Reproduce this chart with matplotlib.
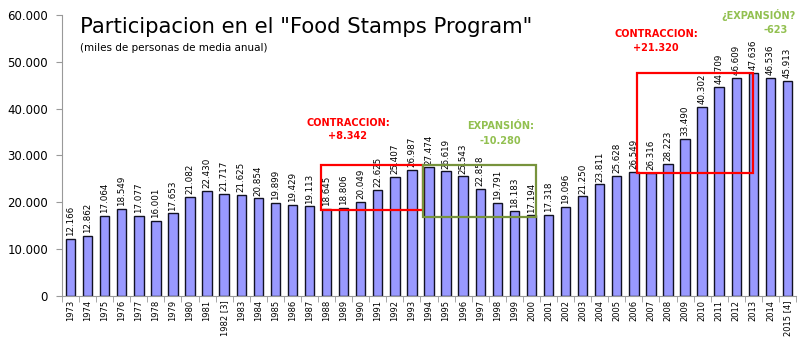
import numpy as np
import matplotlib.pyplot as plt
from matplotlib.patches import Rectangle
from matplotlib.ticker import FuncFormatter, FixedLocator

years = ["1973", "1974", "1975", "1976", "1977", "1978", "1979", "1980",
         "1981", "1982 [3]", "1983", "1984", "1985", "1986", "1987", "1988",
         "1989", "1990", "1991", "1992", "1993", "1994", "1995", "1996",
         "1997", "1998", "1999", "2000", "2001", "2002", "2003", "2004",
         "2005", "2006", "2007", "2008", "2009", "2010", "2011", "2012",
         "2013", "2014", "2015 [4]"]
participants = [12166, 12862, 17064, 18549, 17077, 16001, 17653, 21082,
                22430, 21717, 21625, 20854, 19899, 19429, 19113, 18645,
                18806, 20049, 22625, 25407, 26987, 27474, 26619, 25543,
                22858, 19791, 18183, 17194, 17318, 19096, 21250, 23811,
                25628, 26549, 26316, 28223, 33490, 40302, 44709, 46609,
                47636, 46536, 45913]

RED = "#ff0000"
GREEN = "#92c050"


def miles(v):
    return f"{v:,.0f}".replace(",", ".")


fig = plt.figure(figsize=(8, 3.41), dpi=100)
ax = fig.add_axes([0.0775, 0.132, 0.9175, 0.824])

x = np.arange(len(years))
ax.bar(x, participants, width=0.55, color="#9999ff", edgecolor="#111122",
       linewidth=1.0, zorder=2)

for xi, v in zip(x, participants):
    ax.text(xi, v + 600, miles(v), rotation=90, ha="center", va="bottom",
            fontsize=6.3, color="black")

ax.set_xlim(-0.5, len(years) - 0.5)
ax.set_ylim(0, 60000)
ax.set_yticks(range(0, 60001, 10000))
ax.yaxis.set_major_formatter(FuncFormatter(lambda v, p: miles(v)))
ax.tick_params(axis="y", labelsize=8.5, length=4, color="#999999", pad=6)

ax.set_xticks(x)
ax.set_xticklabels(years, rotation=90, fontsize=6)
ax.tick_params(axis="x", which="major", length=0, pad=3)
ax.xaxis.set_minor_locator(FixedLocator(np.arange(-0.5, len(years), 1.0)))
ax.tick_params(axis="x", which="minor", length=4, color="#999999")

for s in ["top", "right"]:
    ax.spines[s].set_visible(False)
for s in ["left", "bottom"]:
    ax.spines[s].set_color("#999999")

# highlighted periods
ax.add_patch(Rectangle((14.65, 18376), 20.63 - 14.65, 27990 - 18376,
                       fill=False, edgecolor=RED, linewidth=1.6, zorder=3))
ax.add_patch(Rectangle((20.63, 16816), 27.27 - 20.63, 27990 - 16816,
                       fill=False, edgecolor="#77933c", linewidth=1.6, zorder=3))
ax.add_patch(Rectangle((33.2, 26346), 40.0 - 33.2, 47585 - 26346,
                       fill=False, edgecolor=RED, linewidth=1.6, zorder=3))

notes = [
    (16.25, 37030, "CONTRACCION:", RED),
    (16.25, 34190, "+8.342", RED),
    (25.2, 36390, "EXPANSIÓN:", GREEN),
    (25.2, 33180, "-10.280", GREEN),
    (34.3, 55980, "CONTRACCION:", RED),
    (34.3, 52930, "+21.320", RED),
    (40.3, 60040, "¿EXPANSIÓN?", GREEN),
    (41.3, 56840, "-623", GREEN),
]
for nx, ny, txt, col in notes:
    ax.text(nx, ny, txt, color=col, fontsize=7, fontweight="bold",
            ha="center", va="center", clip_on=False)

fig.text(0.1, 0.921, 'Participacion en el "Food Stamps Program"',
         fontsize=15.2, va="center", ha="left")
fig.text(0.1, 0.859, "(miles de personas de media anual)",
         fontsize=7.5, va="center", ha="left")

fig.savefig("out.png", dpi=100)
